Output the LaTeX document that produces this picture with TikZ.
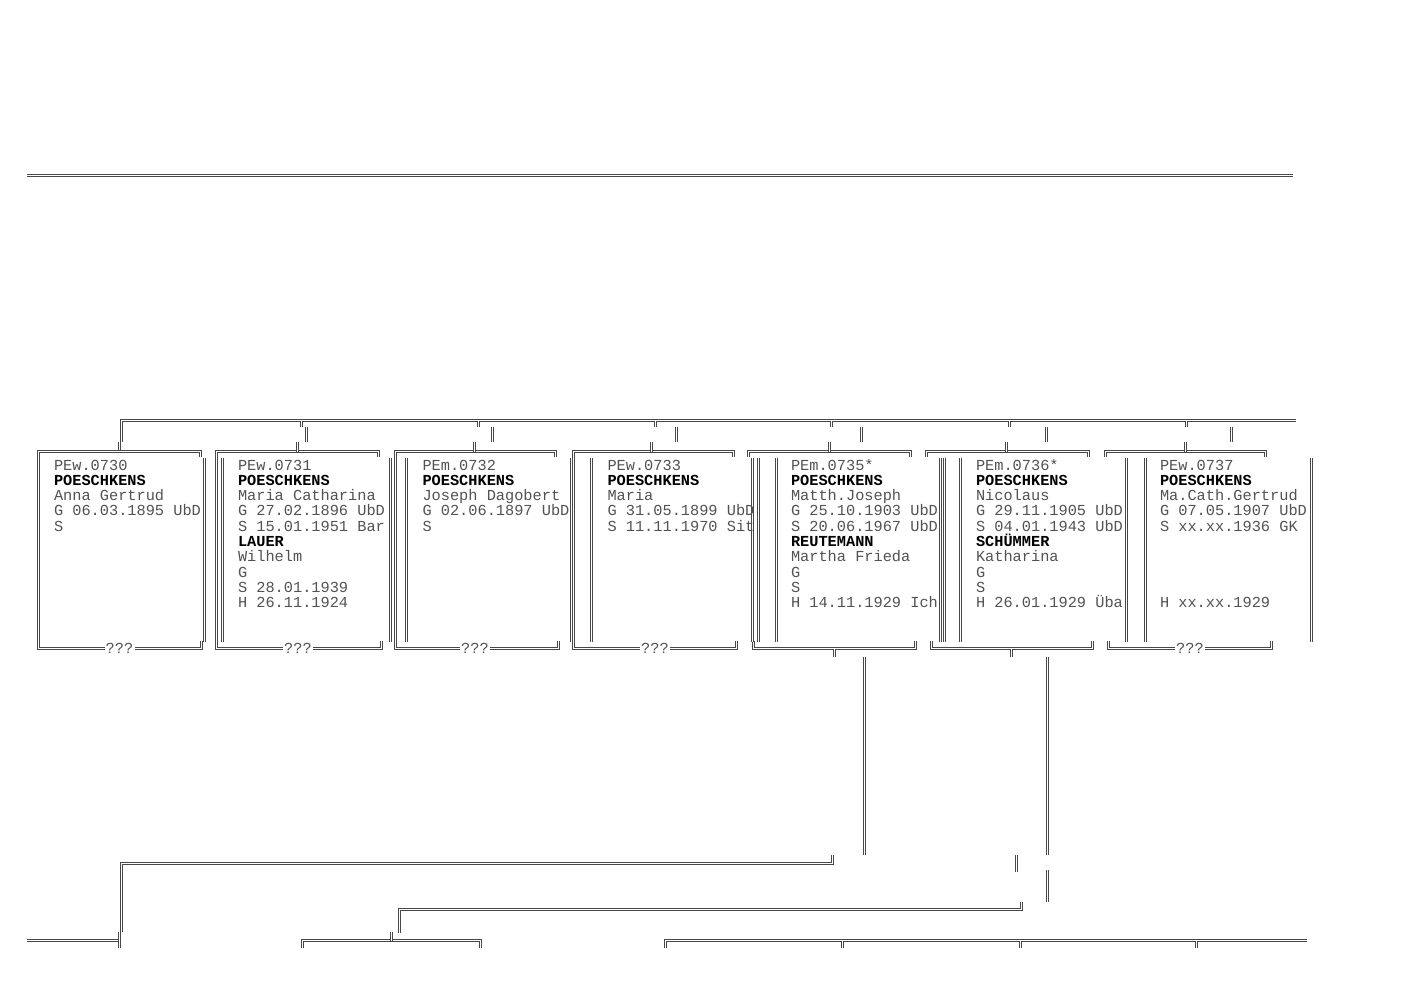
\documentclass[tikz,border=0pt]{standalone}
\usepackage{fontspec}
\setmainfont{Liberation Mono}
\newcommand\nm[1]{{\color{black}\bfseries #1}}
\newcommand\famcard[3]{%
  \foreach \t [count=\i from 0] in {#3}
    \node[txt,name=#1-\i] at (#2,{470+15.33*\i}) {\t};}
\begin{document}
\begin{tikzpicture}[x=1pt,y=-1pt,
  dl/.style={draw=black!72,line width=1pt,double=white,double distance=1pt},
  txt/.style={anchor=base west,inner sep=0pt,outer sep=0pt,text=black!68,
    font=\fontsize{15.3pt}{15.33pt}\selectfont},
  qq/.style={anchor=base,inner sep=0pt,outer sep=0pt,text=black!68,
    font=\fontsize{15.3pt}{15.33pt}\selectfont}]
\useasboundingbox (0,0) rectangle (1413,1000);

% top separator
\draw[dl] (26.5,175.5) -- (1292.5,175.5);

% upper bus
\draw[dl] (121.5,442) -- (121.5,420.5) -- (1296,420.5);
\draw[dl] (119.5,442) -- (119.5,451.5);
\foreach \xt/\xv in {301.5/306.5, 478.5/492.5, 655.5/676.5,
    831.5/861.5, 1009.5/1046.5, 1186.5/1231.5} {
  \draw[dl] (\xt,420.5) -- (\xt,427);
  \draw[dl] (\xv,426.5) -- (\xv,442);
}

% boxes whose left corner line runs down the whole side
\foreach \xl/\xr/\xrb in {38.5/200.5/201.5, 216.5/378.5/381.5, 395.5/555.5/558.5, 573.5/733.5/736.5} {
  \draw[dl] (\xr,457) -- (\xr,451.5) -- (\xl,451.5) -- (\xl,648.5) -- (\xrb,648.5) -- (\xrb,641);
}
% boxes with corner stubs only
\foreach \xl/\xr/\xlb/\xrb in {748.5/910.5/753.5/915.5, 926.5/1088.5/931.5/1092.5, 1105.5/1265.5/1108.5/1271.5} {
  \draw[dl] (\xl,457) -- (\xl,451.5) -- (\xr,451.5) -- (\xr,457);
  \draw[dl] (\xlb,641) -- (\xlb,648.5) -- (\xrb,648.5) -- (\xrb,641);
}
% stubs from box tops up to the bus row
\foreach \xb in {297.5, 474.5, 651.5, 829.5, 1006.5, 1185.5} {
  \draw[dl] (\xb,451.5) -- (\xb,442);
}

% long verticals in text rows
\foreach \xv in {204.5, 222.5, 390.5, 406.5, 571.5, 591.5, 752.5, 758.5, 776.5,
    940.5, 944.5, 960.5, 1126.5, 1145.5, 1311.5} {
  \draw[dl] (\xv,457.5) -- (\xv,641.5);
}

% question marks breaking the bottom lines
\foreach \c in {119.5, 298, 475, 655, 1190} {
  \fill[white] (\c-15,645) rectangle (\c+15,653);
  \node[qq] at (\c,653.5) {???};
}

% descent lines of the married sons
\draw[dl] (834.5,648.5) -- (834.5,656.5);
\draw[dl] (1011.5,648.5) -- (1011.5,656.5);
\draw[dl] (864.5,656.5) -- (864.5,855);
\draw[dl] (1047.5,656.5) -- (1047.5,855);
\draw[dl] (1047.5,870) -- (1047.5,901.5);
\draw[dl] (1016.5,855) -- (1016.5,871.5);

% line A
\draw[dl] (832.5,855) -- (832.5,863.5) -- (121.5,863.5) -- (121.5,931.5);
\draw[dl] (26.5,940.5) -- (119.5,940.5);
\draw[dl] (119.5,931.5) -- (119.5,948);

% lines C and D
\draw[dl] (1021.5,901.5) -- (1021.5,909.5) -- (399.5,909.5) -- (399.5,932.5);
\draw[dl] (302.5,948) -- (302.5,940.5) -- (480.5,940.5) -- (480.5,948);
\draw[dl] (391.5,931.5) -- (391.5,940.5);

% line E
\draw[dl] (665.5,948) -- (665.5,940.5) -- (1306.5,940.5);
\foreach \xs in {842.5, 1020.5, 1196.5} \draw[dl] (\xs,940.5) -- (\xs,948);

% texts
\famcard{b0730}{54}{PEw.0730, \nm{POESCHKENS}, Anna Gertrud, G 06.03.1895 UbD, S}
\famcard{b0731}{238}{PEw.0731, \nm{POESCHKENS}, Maria Catharina, G 27.02.1896 UbD,
  S 15.01.1951 Bar, \nm{LAUER}, Wilhelm, G, S 28.01.1939, H 26.11.1924}
\famcard{b0732}{422.5}{PEm.0732, \nm{POESCHKENS}, Joseph Dagobert, G 02.06.1897 UbD, S}
\famcard{b0733}{607.5}{PEw.0733, \nm{POESCHKENS}, Maria, G 31.05.1899 UbD, S 11.11.1970 Sit}
\famcard{b0735}{791}{PEm.0735*, \nm{POESCHKENS}, Matth.Joseph, G 25.10.1903 UbD,
  S 20.06.1967 UbD, \nm{REUTEMANN}, Martha Frieda, G, S, H 14.11.1929 Ich}
\famcard{b0736}{976}{PEm.0736*, \nm{POESCHKENS}, Nicolaus, G 29.11.1905 UbD,
  S 04.01.1943 UbD, \nm{SCHÜMMER}, Katharina, G, S, H 26.01.1929 Üba}
\famcard{b0737}{1160}{PEw.0737, \nm{POESCHKENS}, Ma.Cath.Gertrud, G 07.05.1907 UbD,
  S xx.xx.1936 GK, {}, {}, {}, {}, H xx.xx.1929}
\end{tikzpicture}
\end{document}
